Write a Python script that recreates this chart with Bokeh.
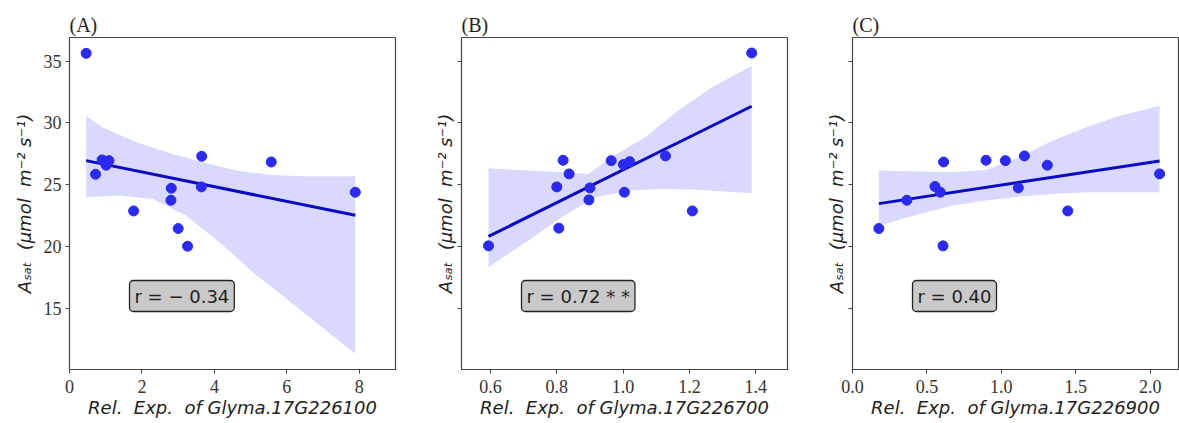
import numpy as np
from bokeh.plotting import figure
from bokeh.layouts import row
from bokeh.models import FixedTicker, PrintfTickFormatter, Label, Range1d
from bokeh.embed import file_html
from bokeh.resources import INLINE

# ---- data ----
a_x = [0.46, 0.72, 0.90, 1.01, 1.09, 1.77, 2.81, 2.80, 3.00, 3.26, 3.65, 3.64, 5.57, 7.89]
a_y = [35.62, 25.86, 27.02, 26.59, 26.96, 22.90, 24.73, 23.76, 21.48, 20.05, 27.31, 24.84, 26.85, 24.41]

b_x = [0.594, 0.806, 0.800, 0.819, 0.837, 0.900, 0.897, 0.964, 1.001, 1.020, 1.004, 1.128, 1.209, 1.388]
b_y = [20.08, 21.51, 24.84, 26.99, 25.89, 24.76, 23.79, 26.96, 26.64, 26.88, 24.41, 27.34, 22.90, 35.65]

c_x = [0.177, 0.365, 0.554, 0.590, 0.612, 0.608, 0.897, 1.027, 1.155, 1.114, 1.309, 1.446, 2.063]
c_y = [21.48, 23.76, 24.87, 24.41, 26.85, 20.08, 26.99, 26.96, 27.34, 24.76, 26.59, 22.90, 25.89]

# confidence band edges
a_band_up_x = [0.46, 0.91, 1.84, 2.76, 3.68, 4.60, 5.52, 6.45, 7.89]
a_band_up = [30.54, 29.65, 28.44, 27.58, 26.83, 26.16, 25.81, 25.70, 25.70]
a_band_lo_x = [0.46, 1.38, 2.30, 3.21, 4.14, 5.06, 5.99, 6.91, 7.89]
a_band_lo = [24.00, 24.14, 23.87, 22.53, 20.38, 17.95, 15.81, 13.66, 11.37]

b_band_up_x = [0.594, 0.714, 0.814, 0.895, 0.965, 1.066, 1.166, 1.267, 1.388]
b_band_up = [26.34, 26.16, 26.02, 25.89, 27.23, 28.84, 31.00, 32.87, 34.62]
b_band_lo_x = [0.594, 0.714, 0.814, 0.915, 1.016, 1.116, 1.217, 1.388]
b_band_lo = [18.36, 20.51, 22.39, 24.00, 24.54, 24.68, 24.60, 24.33]

c_band_up_x = [0.177, 0.449, 0.673, 0.897, 1.120, 1.346, 1.570, 1.795, 2.063]
c_band_up = [26.16, 26.08, 26.02, 26.21, 27.23, 28.58, 29.65, 30.59, 31.40]
c_band_lo_x = [0.177, 0.449, 0.673, 0.897, 1.120, 1.346, 1.570, 2.063]
c_band_lo = [21.72, 22.66, 23.33, 23.74, 24.06, 24.27, 24.41, 24.41]

NB = "\u00a0"
titles = ["(A)", "(B)", "(C)"]
r_texts = ["r" + NB + "=" + NB + "−" + NB + "0.34",
           "r" + NB + "=" + NB + "0.72" + NB + "*" + NB + "*",
           "r" + NB + "=" + NB + "0.40"]
genes = ["17G226100", "17G226700", "17G226900"]
x_labels = ["Rel." + NB * 2 + "Exp." + NB * 2 + "of" + NB + "Glyma." + g for g in genes]
y_label = "Aₛₐₜ" + NB * 2 + "(μmol" + NB * 2 + "m⁻²" + NB + "s⁻¹)"
x_ticks = [[0, 2, 4, 6, 8], [0.6, 0.8, 1.0, 1.2, 1.4], [0.0, 0.5, 1.0, 1.5, 2.0]]
x_fmt = ["%d", "%.1f", "%.1f"]
x_ranges = [(0.0, 9.0), (0.5125, 1.496), (0.0, 2.19)]
y_ticks = [15, 20, 25, 30, 35]
y_range = (10.1, 36.9)

PT_COLOR = "#2a2af2"
LINE_COLOR = "#0a0ac4"
BAND_COLOR = "#d9d9ff"
SERIF = "Liberation Serif"


def panel(i, xs, ys, ux, uy, lx, ly, left, right, show_ylabels):
    p = figure(frame_width=326, frame_height=332,
               min_border_left=left, min_border_right=right,
               min_border_top=37, min_border_bottom=54,
               x_range=Range1d(*x_ranges[i]), y_range=Range1d(*y_range),
               output_backend="svg", toolbar_location=None,
               background_fill_color="white", border_fill_color="white")
    p.grid.visible = False
    p.outline_line_color = "#444444"
    p.outline_line_width = 1.2

    p.title.text = titles[i]
    p.title.text_font = SERIF
    p.title.text_font_size = "20px"
    p.title.text_font_style = "normal"
    p.title.text_color = "#222222"
    p.title.standoff = 3
    p.title.offset = 0

    # band
    bx = list(ux) + list(lx)[::-1]
    by = list(uy) + list(ly)[::-1]
    p.patch(bx, by, fill_color=BAND_COLOR, fill_alpha=1.0, line_color=None)

    # regression line
    xa = np.array(xs); ya = np.array(ys)
    k, b = np.polyfit(xa, ya, 1)
    lx_ = np.array([xa.min(), xa.max()])
    p.line(lx_, k * lx_ + b, line_color=LINE_COLOR, line_width=3)

    # points
    p.scatter(xs, ys, size=10, fill_color=PT_COLOR, line_color=PT_COLOR)

    # axes
    for ax in (p.xaxis[0], p.yaxis[0]):
        ax.axis_line_color = "#444444"
        ax.major_tick_line_color = "#444444"
        ax.major_tick_out = 4
        ax.major_tick_in = 0
        ax.minor_tick_line_color = None
        ax.major_label_text_font = SERIF
        ax.major_label_text_font_size = "18px"
        ax.major_label_text_color = "#333333"
        ax.axis_label_text_font = "DejaVu Sans"
        ax.axis_label_text_font_style = "italic"
        ax.axis_label_text_color = "#222222"

    p.xaxis[0].axis_label_text_font_size = "18px"
    p.yaxis[0].axis_label_text_font_size = "18px"

    p.xaxis[0].ticker = FixedTicker(ticks=x_ticks[i])
    p.xaxis[0].formatter = PrintfTickFormatter(format=x_fmt[i])
    p.xaxis[0].axis_label = x_labels[i]
    p.xaxis[0].major_label_standoff = 6
    p.xaxis[0].axis_label_standoff = 1

    p.yaxis[0].ticker = FixedTicker(ticks=y_ticks)
    p.yaxis[0].axis_label = y_label
    if show_ylabels:
        p.yaxis[0].major_label_standoff = 4
        p.yaxis[0].axis_label_standoff = 6
    else:
        p.yaxis[0].major_label_overrides = {t: "" for t in y_ticks}
        p.yaxis[0].major_label_standoff = 0
        p.yaxis[0].axis_label_standoff = 2

    lab = Label(x=60, y=58, x_units="screen", y_units="screen",
                text=r_texts[i], text_font="DejaVu Sans", text_font_size="18px",
                text_color="#222222", text_align="left", text_baseline="bottom",
                background_fill_color="#c9c9c9", background_fill_alpha=1.0,
                border_line_color="#222222", border_line_width=1.3,
                border_radius=4, padding=5)
    p.add_layout(lab)
    return p


pa = panel(0, a_x, a_y, a_band_up_x, a_band_up, a_band_lo_x, a_band_lo, 69, 5, True)
pb = panel(1, b_x, b_y, b_band_up_x, b_band_up, b_band_lo_x, b_band_lo, 61, 4, False)
pc = panel(2, c_x, c_y, c_band_up_x, c_band_up, c_band_lo_x, c_band_lo, 61, 1, False)

layout = row(pa, pb, pc, spacing=0)
open("out.html", "w").write(file_html(layout, INLINE))
